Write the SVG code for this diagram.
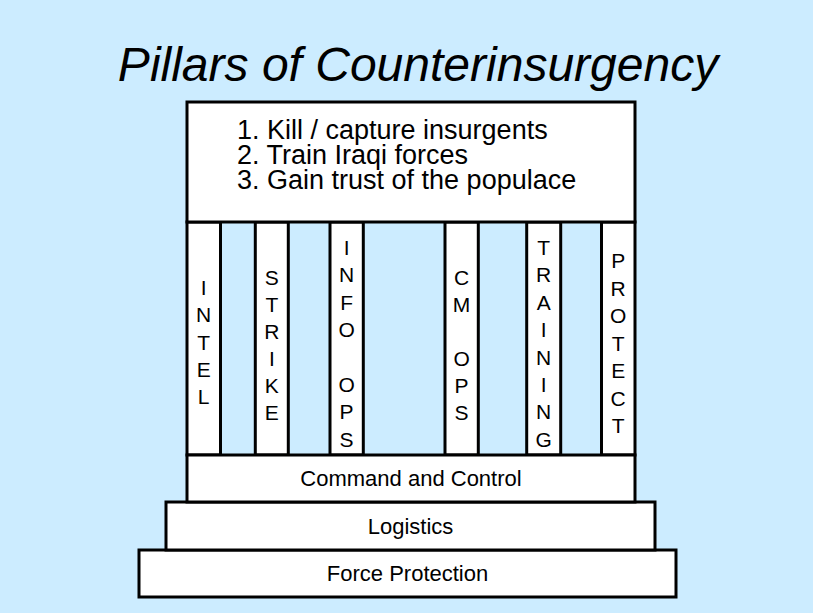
<svg xmlns="http://www.w3.org/2000/svg" width="813" height="613" viewBox="0 0 813 613">
<style>
.bg{fill:#CCECFF}
.box{fill:#FFFFFF;stroke:#000000;stroke-width:3}
.t{font-family:"Liberation Sans",Arial,sans-serif;fill:#000000}
.title{font-size:48px;font-style:italic;text-anchor:middle}
.goal{font-size:27px}
.pl{font-size:21px;text-anchor:middle}
.base{font-size:22px;text-anchor:middle}
</style>
<rect class="bg" x="0" y="0" width="813" height="613"/>
<text id="title" class="t title" x="418" y="81">Pillars of Counterinsurgency</text>
<g id="pillars">
<g id="intel"><rect class="box" x="187" y="222" width="33.5" height="233"/>
<text class="t pl" y="295"><tspan x="203.7">I</tspan><tspan x="203.7" dy="27.3">N</tspan><tspan x="203.7" dy="27.3">T</tspan><tspan x="203.7" dy="27.3">E</tspan><tspan x="203.7" dy="27.3">L</tspan></text></g>
<g id="strike"><rect class="box" x="255.3" y="222" width="33" height="233"/>
<text class="t pl" y="285"><tspan x="271.8">S</tspan><tspan x="271.8" dy="27">T</tspan><tspan x="271.8" dy="27">R</tspan><tspan x="271.8" dy="27">I</tspan><tspan x="271.8" dy="27">K</tspan><tspan x="271.8" dy="27">E</tspan></text></g>
<g id="infoops"><rect class="box" x="330" y="222" width="33.3" height="233"/>
<text class="t pl" y="255"><tspan x="346.6">I</tspan><tspan x="346.6" dy="27.4">N</tspan><tspan x="346.6" dy="27.4">F</tspan><tspan x="346.6" dy="27.4">O</tspan><tspan x="346.6" dy="54.8">O</tspan><tspan x="346.6" dy="27.4">P</tspan><tspan x="346.6" dy="27.4">S</tspan></text></g>
<g id="cmops"><rect class="box" x="445" y="222" width="33.3" height="233"/>
<text class="t pl" y="285"><tspan x="461.6">C</tspan><tspan x="461.6" dy="27">M</tspan><tspan x="461.6" dy="54">O</tspan><tspan x="461.6" dy="27">P</tspan><tspan x="461.6" dy="27">S</tspan></text></g>
<g id="training"><rect class="box" x="526.7" y="222" width="34" height="233"/>
<text class="t pl" y="255"><tspan x="543.7">T</tspan><tspan x="543.7" dy="27.4">R</tspan><tspan x="543.7" dy="27.4">A</tspan><tspan x="543.7" dy="27.4">I</tspan><tspan x="543.7" dy="27.4">N</tspan><tspan x="543.7" dy="27.4">I</tspan><tspan x="543.7" dy="27.4">N</tspan><tspan x="543.7" dy="27.4">G</tspan></text></g>
<g id="protect"><rect class="box" x="601.5" y="222" width="33.5" height="233"/>
<text class="t pl" y="268"><tspan x="618.2">P</tspan><tspan x="618.2" dy="27.5">R</tspan><tspan x="618.2" dy="27.5">O</tspan><tspan x="618.2" dy="27.5">T</tspan><tspan x="618.2" dy="27.5">E</tspan><tspan x="618.2" dy="27.5">C</tspan><tspan x="618.2" dy="27.5">T</tspan></text></g>
</g>
<g id="goals"><rect class="box" x="187" y="102" width="448" height="120"/>
<text class="t goal" x="237" y="138.5">1. Kill / capture insurgents</text>
<text class="t goal" x="237" y="163.5">2. Train Iraqi forces</text>
<text class="t goal" x="237" y="188.5">3. Gain trust of the populace</text></g>
<g id="force"><rect class="box" x="139" y="550" width="537" height="47"/>
<text class="t base" x="407.5" y="581">Force Protection</text></g>
<g id="logistics"><rect class="box" x="166" y="502" width="489" height="48"/>
<text class="t base" x="410.5" y="534">Logistics</text></g>
<g id="c2"><rect class="box" x="187" y="455" width="448" height="47"/>
<text class="t base" x="411" y="486">Command and Control</text></g>
<g id="connectors"></g>
</svg>
